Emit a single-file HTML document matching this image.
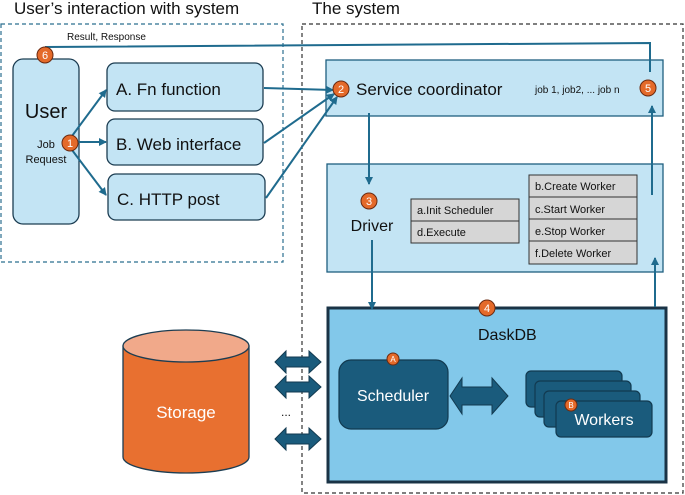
<!DOCTYPE html>
<html><head><meta charset="utf-8"><style>
body{margin:0;background:#fff}
svg{display:block;font-family:"Liberation Sans",sans-serif}
</style></head><body>
<svg width="685" height="495" viewBox="0 0 685 495" xmlns="http://www.w3.org/2000/svg">
<defs>
<marker id="ar" markerWidth="8" markerHeight="8" refX="7" refY="4" orient="auto" markerUnits="userSpaceOnUse">
<path d="M0,0 L8,4 L0,8 Z" fill="#1f6b8e"/></marker>
</defs>
<text x="14" y="14" font-size="17" fill="#111">User’s interaction with system</text>
<text x="312" y="14" font-size="17" fill="#111">The system</text>
<rect x="1" y="24" width="282" height="238" fill="none" stroke="#2b6f8f" stroke-width="1.2" stroke-dasharray="4,3"/>
<rect x="302" y="24" width="381" height="469" fill="none" stroke="#333" stroke-width="1.2" stroke-dasharray="4,3"/>

<rect x="13" y="59" width="66" height="165" rx="10" fill="#c3e4f4" stroke="#1c3d52" stroke-width="1.3"/>
<text x="46" y="118" font-size="20" text-anchor="middle" fill="#111">User</text>
<text x="46" y="148" font-size="11" text-anchor="middle" fill="#111">Job</text>
<text x="46" y="163" font-size="11" text-anchor="middle" fill="#111">Request</text>
<rect x="107" y="63" width="156" height="48" rx="8" fill="#c3e4f4" stroke="#1c3d52" stroke-width="1.3"/>
<text x="116" y="95" font-size="17" fill="#111">A. Fn function</text>
<rect x="107" y="119" width="156" height="46" rx="8" fill="#c3e4f4" stroke="#1c3d52" stroke-width="1.3"/>
<text x="116" y="150" font-size="17" fill="#111">B. Web interface</text>
<rect x="108" y="174" width="157" height="46" rx="8" fill="#c3e4f4" stroke="#1c3d52" stroke-width="1.3"/>
<text x="117" y="205" font-size="17" fill="#111">C. HTTP post</text>

<rect x="326" y="60" width="337" height="56" fill="#c3e4f4" stroke="#1f5f80" stroke-width="1.3"/>
<text x="356" y="95" font-size="17" fill="#111">Service coordinator</text>
<text x="535" y="93" font-size="10" fill="#111">job 1, job2, ... job n</text>

<rect x="327" y="164" width="336" height="108" fill="#c3e4f4" stroke="#1f5f80" stroke-width="1.3"/>
<text x="372" y="231" font-size="16" text-anchor="middle" fill="#111">Driver</text>
<g fill="#d6d6d6" stroke="#333" stroke-width="1">
<rect x="411" y="199" width="108" height="22"/><rect x="411" y="221" width="108" height="22"/>
<rect x="529" y="175" width="108" height="22"/><rect x="529" y="197" width="108" height="22"/>
<rect x="529" y="219" width="108" height="22"/><rect x="529" y="241" width="108" height="23"/>
</g>
<g font-size="11" fill="#111">
<text x="417" y="214">a.Init Scheduler</text>
<text x="417" y="236">d.Execute</text>
<text x="535" y="190">b.Create Worker</text>
<text x="535" y="213">c.Start Worker</text>
<text x="535" y="235">e.Stop Worker</text>
<text x="535" y="257">f.Delete Worker</text>
</g>

<rect x="328" y="308" width="338" height="174" fill="#82c8ea" stroke="#1a3346" stroke-width="3"/>
<text x="478" y="340" font-size="16" fill="#111">DaskDB</text>
<rect x="339" y="360" width="109" height="69" rx="12" fill="#1a5b7c" stroke="#123a50" stroke-width="1.2"/>
<text x="393" y="401" font-size="16" text-anchor="middle" fill="#fff">Scheduler</text>
<g fill="#1a5b7c" stroke="#123a50" stroke-width="1.2">
<rect x="526" y="371" width="96" height="36" rx="5"/>
<rect x="535" y="381" width="96" height="36" rx="5"/>
<rect x="544" y="391" width="96" height="36" rx="5"/>
<rect x="556" y="401" width="96" height="36" rx="5"/>
</g>
<text x="604" y="425" font-size="16" text-anchor="middle" fill="#fff">Workers</text>
<path d="M450,396 L462,378 L462,387 L492,387 L492,378 L508,396 L492,414 L492,405 L462,405 L462,414 Z" fill="#1a5b7c" stroke="#123a50" stroke-width="1"/>

<path d="M123,346 L123,457 A63,16 0 0 0 249,457 L249,346 Z" fill="#e87030" stroke="#1c3d52" stroke-width="1.3"/>
<ellipse cx="186" cy="346" rx="63" ry="16" fill="#f1a98a" stroke="#1c3d52" stroke-width="1.3"/>
<text x="186" y="418" font-size="17" text-anchor="middle" fill="#fff">Storage</text>

<g fill="#1a5b7c" stroke="#123a50" stroke-width="1">
<path d="M275,362 L286,351 L286,357 L309,357 L309,351 L321,362 L309,373 L309,367 L286,367 L286,373 Z"/>
<path d="M275,387 L286,376 L286,382 L309,382 L309,376 L321,387 L309,398 L309,392 L286,392 L286,398 Z"/>
<path d="M275,439 L286,428 L286,434 L309,434 L309,428 L321,439 L309,450 L309,444 L286,444 L286,450 Z"/>
</g>
<text x="281" y="416" font-size="12" fill="#111">...</text>

<g stroke="#1f6b8e" stroke-width="2" fill="none">
<line x1="72" y1="136" x2="106" y2="90" marker-end="url(#ar)"/>
<line x1="76" y1="142" x2="106" y2="142" marker-end="url(#ar)"/>
<line x1="72" y1="150" x2="106" y2="195" marker-end="url(#ar)"/>
<line x1="264" y1="88" x2="333" y2="90" marker-end="url(#ar)"/>
<line x1="264" y1="143" x2="334" y2="94" marker-end="url(#ar)"/>
<line x1="266" y1="198" x2="337" y2="97" marker-end="url(#ar)"/>
<polyline points="45,47 650,43 650,72"/>
<line x1="652" y1="195" x2="652" y2="106" marker-end="url(#ar)"/>
<line x1="655" y1="307" x2="655" y2="258" marker-end="url(#ar)"/>
<line x1="369" y1="113" x2="369" y2="184" marker-end="url(#ar)"/>
<line x1="372" y1="240" x2="372" y2="309" marker-end="url(#ar)"/>
</g>
<text x="67" y="40" font-size="10" fill="#111">Result, Response</text>

<g stroke="#6b2a10" stroke-width="1" fill="#e46a2a">
<circle cx="45" cy="55" r="8"/><circle cx="70" cy="143" r="8"/><circle cx="341" cy="89" r="8"/>
<circle cx="648" cy="88" r="8"/><circle cx="369" cy="201" r="8"/><circle cx="487" cy="308" r="8"/>
<circle cx="393" cy="359" r="6"/><circle cx="571" cy="405" r="6"/>
</g>
<g fill="#fff" font-size="11" text-anchor="middle">
<text x="45" y="59">6</text><text x="70" y="147">1</text><text x="341" y="93">2</text>
<text x="648" y="92">5</text><text x="369" y="205">3</text><text x="487" y="312">4</text>
<text x="393" y="362" font-size="8">A</text><text x="571" y="408" font-size="8">B</text>
</g>
</svg>
</body></html>
